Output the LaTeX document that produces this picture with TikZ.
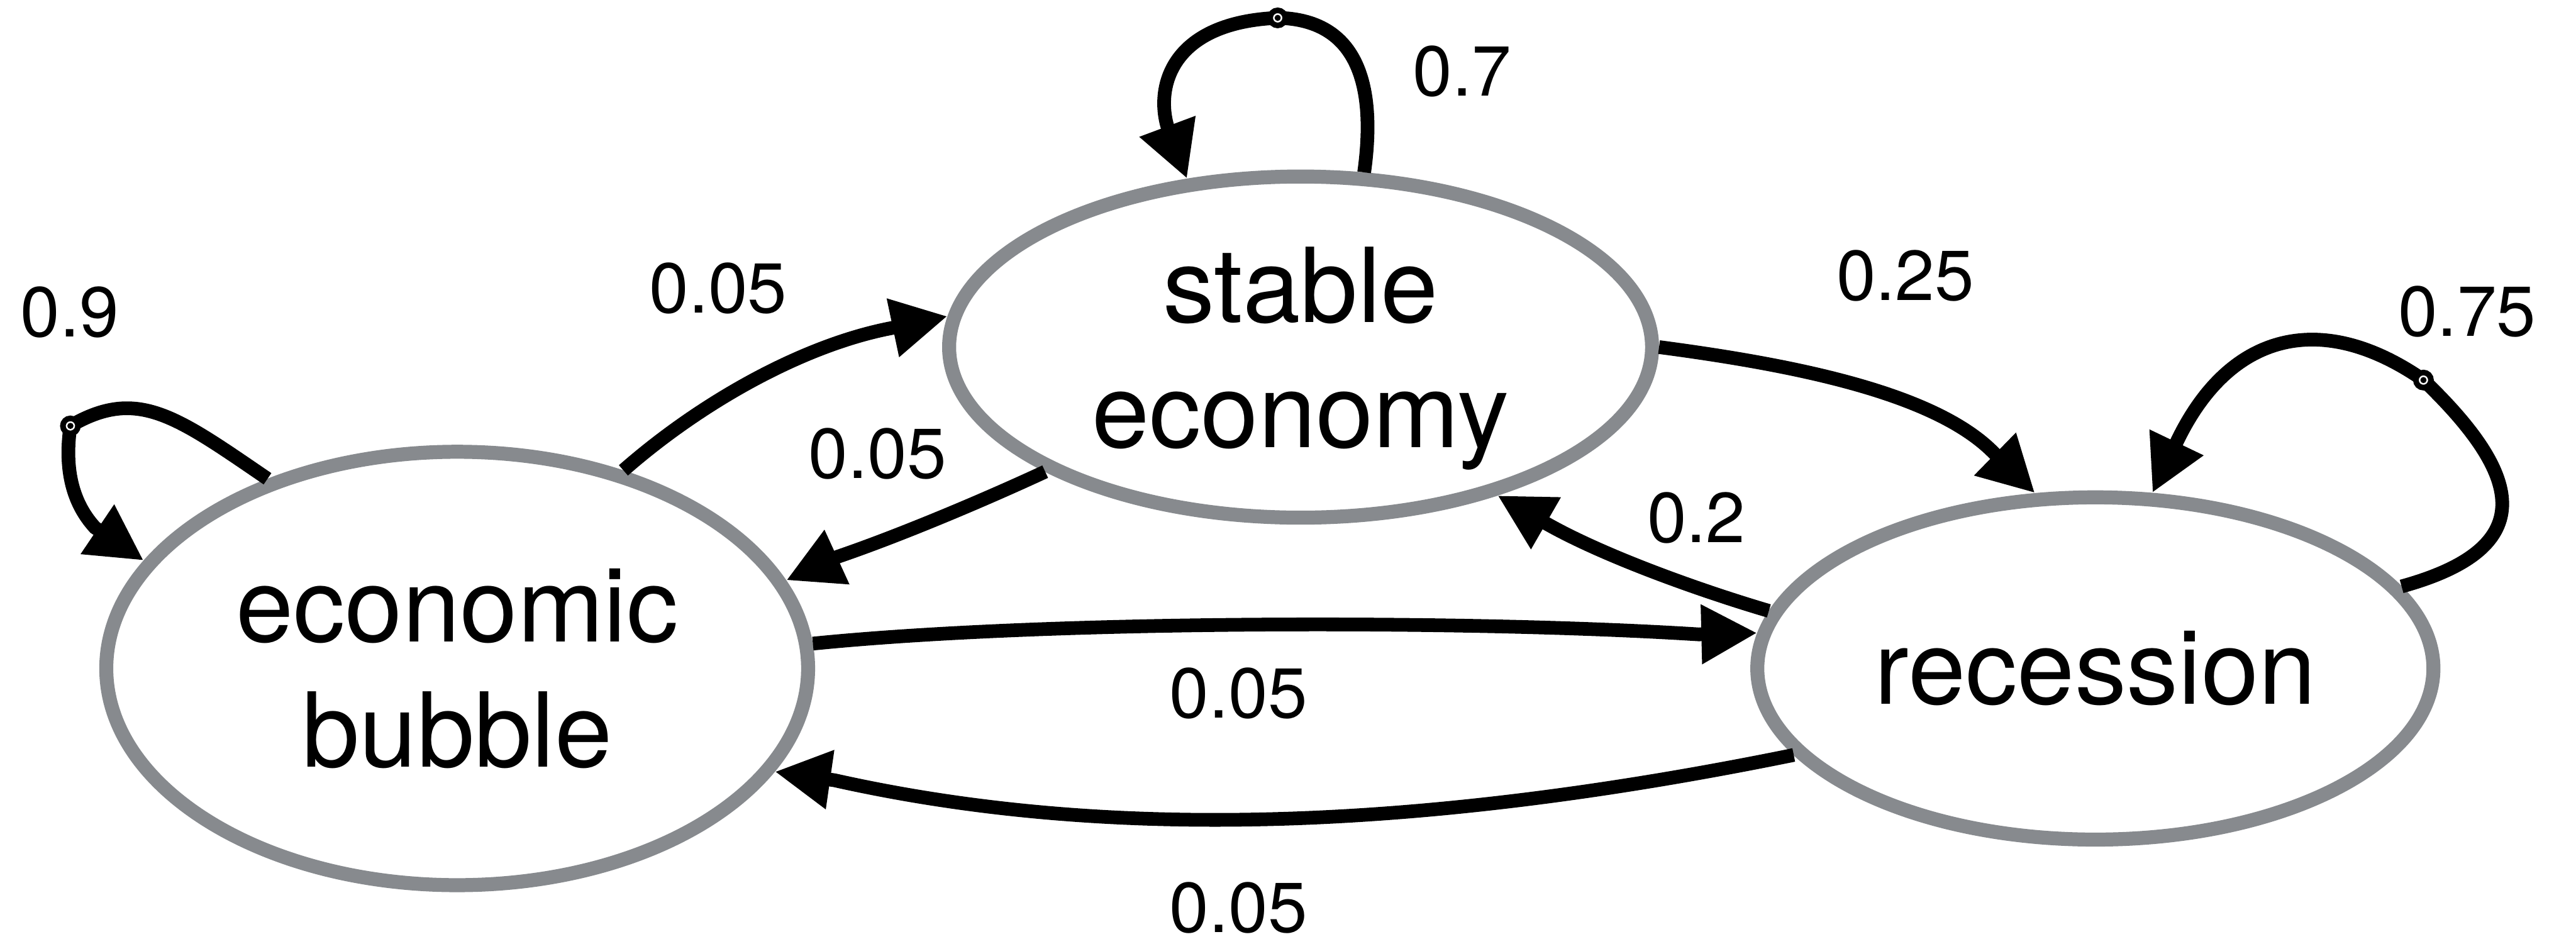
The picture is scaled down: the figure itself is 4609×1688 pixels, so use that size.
\documentclass[tikz,border=0pt]{standalone}
\usepackage{fontspec}
\setmainfont{TeX Gyre Heros}
\usetikzlibrary{shapes.geometric,arrows.meta}
\definecolor{ringgray}{RGB}{135,138,142}
\tikzset{
  state/.style={ellipse, draw=ringgray, line width=0.25cm, fill=white, inner sep=0pt, align=center,
    font=\fontsize{52.6pt}{63.7pt}\selectfont},
  edge/.style={draw=black, line width=0.245cm, -{Triangle[length=1cm,width=1cm]}},
  prob/.style={inner sep=0pt, font=\fontsize{36pt}{43pt}\selectfont},
  marker/.style={circle, draw=black, fill=white, line width=0.1cm, minimum size=0.27cm, inner sep=0pt}
}
\begin{document}
\begin{tikzpicture}[x=0.01cm, y=-0.01cm]
\useasboundingbox (0,0) rectangle (4609,1688);
\fill[white] (0,0) rectangle (4609,1688);
% states
\node[state, minimum width=12.55cm, minimum height=7.75cm] (bubble) at (818,1196) {economic\\bubble};
\node[state, minimum width=12.57cm, minimum height=6.10cm, text depth=0pt] (stable) at (2327,621) {stable\\economy};
\node[state, minimum width=12.09cm, minimum height=6.12cm] (recession) at (3749,1196) {recession};
% loop markers
\coordinate (m1) at (126,762);
\coordinate (m2) at (2286,32);
\coordinate (m3) at (4336,680);
% self loops
\draw[edge] (bubble.135.3) .. controls (315,745) and (246,692) .. (m1)
  .. controls (116,830) and (125,895) .. (170,944) -- (bubble.161.6);
\draw[edge] (stable.70.8) .. controls (2460,170) and (2440,35) .. (m2)
  .. controls (2100,40) and (2068,150) .. (2088,224) -- (stable.124.2);
\draw[edge] (recession.15.2) .. controls (4552,979) and (4509,846) .. (m3)
  .. controls (4156,555) and (3990,592) .. (3895,790) -- (recession.72.1);
% transitions
\draw[edge] (bubble.50.2) .. controls (1255,719) and (1438,617) .. (1595,587) -- (stable.175.2);
\draw[edge] (stable.206.6) .. controls (1762,894) and (1613,957) .. (1499,996) -- (bubble.15.9);
\draw[edge] (stable.0.9) .. controls (3211,653) and (3462,703) .. (3567,810) -- (recession.109.4);
\draw[edge] (recession.170.5) .. controls (3046,1058) and (2874,997) .. (2769,938) -- (stable.323.1);
\draw[edge] (bubble.4.95) .. controls (1875,1109) and (2629,1109) .. (3039,1135) -- (recession.174.9);
\draw[edge] (recession.196.5) .. controls (2491,1497) and (1945,1497) .. (1493,1396) -- (bubble.342.9);
% markers
\node[marker] (mk1) at (m1) {};
\node[marker] (mk2) at (m2) {};
\node[marker] (mk3) at (m3) {};
\fill (mk1.center) circle (0.055cm);
\fill (mk2.center) circle (0.055cm);
\fill (mk3.center) circle (0.055cm);
% probabilities
\node[prob] (p1) at (125,559) {0.9};
\node[prob] (p2) at (2616,128) {0.7};
\node[prob] (p3) at (3409,493) {0.25};
\node[prob] (p4) at (4414,557) {0.75};
\node[prob] (p5) at (1285,516) {0.05};
\node[prob] (p6) at (1570,812) {0.05};
\node[prob] (p7) at (3035,927) {0.2};
\node[prob] (p8) at (2216,1241) {0.05};
\node[prob] (p9) at (2216,1624) {0.05};
\end{tikzpicture}
\end{document}
